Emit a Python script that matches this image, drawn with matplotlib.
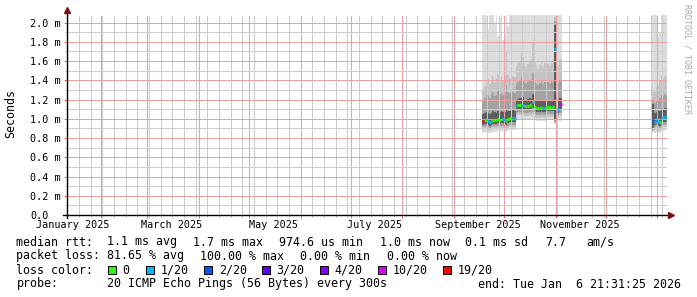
import matplotlib
matplotlib.use("Agg")
import matplotlib.dates as mdates
import matplotlib.pyplot as plt
import matplotlib.transforms as mtransforms
import pandas as pd
from matplotlib.patches import Rectangle
from matplotlib.ticker import FixedLocator, FuncFormatter, NullFormatter

W, H, DPI = 697, 297, 100
MONO = "DejaVu Sans Mono"
plt.rcParams["font.family"] = [MONO]

# smokeping "last 360 days" window
START = pd.Timestamp("2025-01-11 21:31:25")
END = pd.Timestamp("2026-01-06 21:31:25")

# loss count (of 20 pings) -> colour, as in the legend
LOSS_COLORS = {0: "#26ff00", 1: "#00b8ff", 2: "#0059ff", 3: "#5e00ff",
               4: "#7e00ff", 10: "#dd00ff", 19: "#ff0000"}
LOSS_LABELS = ["0", "1/20", "2/20", "3/20", "4/20", "10/20", "19/20"]
LOSS_KEYS = [0, 1, 2, 3, 4, 10, 19]

# smoke: outer band first (min..max), inner last
BAND_COLORS = ["#dddddd", "#c4c4c4", "#a2a2a2", "#5e5e5e"]

# ---- segment A: daily rows 2025-09-18 .. 2025-11-04 (ms) ----
days_a = pd.date_range("2025-09-18", "2025-11-04", freq="D")
end_a = pd.Timestamp("2025-11-04 17:00")
median_a = [0.98, 0.99, 0.99, 0.98, 0.97, 0.98, 0.99, 0.99, 0.99, 1.00, 0.99, 1.00, 1.00, 0.99, 0.98, 1.00, 1.01, 1.00, 1.01, 1.01,
            1.13, 1.14, 1.14, 1.13, 1.14, 1.13, 1.13, 1.13, 1.14, 1.13, 1.17, 1.12, 1.11, 1.11, 1.11, 1.12, 1.11, 1.11, 1.12, 1.12,
            1.12, 1.12, 1.12, 1.73, 1.07, 1.10, 1.15, 1.15]
loss_a = [19, 0, 0, 1, 1, 0, 0, 0, 0, 0, 0, 0, 1, 1, 0, 0, 0, 0, 1, 1,
          1, 0, 0, 1, 1, 0, 0, 0, 0, 0, 1, 0, 0, 0, 0, 0, 1, 1, 0, 0,
          0, 1, 0, 1, 1, 1, 10, 10]
top_a = [2.10, 2.10, 2.10, 1.93, 2.10, 2.10, 2.10, 1.99, 2.10, 1.86, 2.05, 2.10, 1.82, 1.84, 2.10, 1.96, 2.10, 2.10, 2.10, 2.10,
         2.10, 2.10, 2.10, 2.10, 2.10, 2.10, 2.10, 2.10, 2.10, 2.10, 2.10, 2.10, 2.10, 2.10, 2.10, 2.10, 2.10, 2.10, 2.10, 2.10,
         2.10, 2.10, 2.10, 2.10, 2.10, 2.10, 2.10, 2.10]
h2_a = [1.30, 1.34, 1.38, 1.42, 1.36, 1.40, 1.45, 1.38, 1.41, 1.47, 1.40, 1.43, 1.39, 1.44, 1.70, 1.46, 1.42, 1.40, 1.45, 1.43,
        1.55, 1.58, 1.60, 1.68, 1.64, 1.55, 1.52, 1.57, 1.60, 1.62, 1.79, 1.58, 1.55, 1.52, 1.56, 1.60, 1.54, 1.58, 1.62, 1.57,
        1.55, 1.60, 1.58, 2.06, 1.60, 1.56, 1.62, 1.60]
h3_a = [1.20, 1.22, 1.25, 1.24, 1.22, 1.26, 1.28, 1.24, 1.25, 1.29, 1.26, 1.27, 1.25, 1.27, 1.35, 1.28, 1.27, 1.26, 1.28, 1.27,
        1.36, 1.38, 1.40, 1.42, 1.40, 1.37, 1.36, 1.38, 1.40, 1.41, 1.48, 1.38, 1.36, 1.35, 1.37, 1.39, 1.36, 1.38, 1.40, 1.38,
        1.37, 1.39, 1.38, 2.02, 1.40, 1.37, 1.40, 1.40]
h4_a = [1.05, 1.06, 1.07, 1.06, 1.05, 1.06, 1.08, 1.07, 1.06, 1.08, 1.07, 1.08, 1.07, 1.07, 1.10, 1.08, 1.08, 1.07, 1.09, 1.08,
        1.20, 1.21, 1.22, 1.22, 1.23, 1.20, 1.20, 1.21, 1.22, 1.21, 1.26, 1.19, 1.18, 1.18, 1.19, 1.20, 1.18, 1.19, 1.20, 1.19,
        1.19, 1.20, 1.19, 1.97, 1.18, 1.19, 1.22, 1.22]
l4_a = [0.94, 0.95, 0.95, 0.94, 0.93, 0.94, 0.95, 0.95, 0.95, 0.96, 0.95, 0.96, 0.96, 0.95, 0.94, 0.96, 0.97, 0.96, 0.97, 0.97,
        1.09, 1.10, 1.10, 1.09, 1.10, 1.09, 1.09, 1.09, 1.10, 1.09, 1.11, 1.08, 1.07, 1.07, 1.07, 1.08, 1.07, 1.07, 1.08, 1.08,
        1.08, 1.08, 1.08, 0.99, 1.03, 1.06, 1.10, 1.10]
l3_a = [0.91, 0.92, 0.92, 0.91, 0.90, 0.91, 0.92, 0.92, 0.92, 0.93, 0.92, 0.93, 0.93, 0.92, 0.91, 0.93, 0.94, 0.93, 0.94, 0.94,
        1.06, 1.07, 1.07, 1.06, 1.07, 1.06, 1.06, 1.06, 1.07, 1.06, 1.07, 1.05, 1.04, 1.04, 1.04, 1.05, 1.04, 1.04, 1.05, 1.05,
        1.05, 1.05, 1.05, 0.97, 1.01, 1.03, 1.06, 1.06]
l2_a = [0.88, 0.89, 0.89, 0.88, 0.88, 0.88, 0.89, 0.89, 0.89, 0.90, 0.89, 0.90, 0.90, 0.89, 0.88, 0.90, 0.91, 0.90, 0.91, 0.91,
        1.03, 1.04, 1.04, 1.03, 1.04, 1.03, 1.03, 1.03, 1.04, 1.03, 1.04, 1.02, 1.01, 1.01, 1.01, 1.02, 1.01, 1.01, 1.02, 1.02,
        1.02, 1.02, 1.02, 0.96, 0.99, 1.01, 1.03, 1.03]
l1_a = [0.85, 0.86, 0.86, 0.85, 0.85, 0.85, 0.86, 0.86, 0.86, 0.87, 0.86, 0.87, 0.87, 0.86, 0.86, 0.87, 0.88, 0.87, 0.88, 0.88,
        0.99, 1.00, 1.00, 0.99, 1.00, 0.99, 0.99, 0.99, 1.00, 0.99, 1.00, 0.99, 0.98, 0.98, 0.98, 0.99, 0.98, 0.98, 0.99, 0.99,
        0.99, 0.99, 0.99, 0.95, 0.97, 0.98, 0.98, 0.98]

# ---- segment B: daily rows 2025-12-29 .. 2026-01-06 (ms) ----
days_b = pd.date_range("2025-12-29", "2026-01-06", freq="D")
end_b = END
median_b = [0.99, 0.97, 1.00, 0.98, 0.97, 1.01, 1.02, 1.02, 1.03]
loss_b = [2, 1, 1, 1, 0, 1, 1, 1, 1]
top_b = [2.10, 2.10, 2.10, 1.86, 1.90, 2.10, 2.10, 2.10, 2.10]
h2_b = [1.30, 1.28, 1.33, 1.35, 1.40, 1.44, 1.42, 1.45, 1.43]
h3_b = [1.20, 1.16, 1.18, 1.20, 1.22, 1.25, 1.24, 1.26, 1.25]
h4_b = [1.15, 1.06, 1.07, 1.08, 1.08, 1.10, 1.10, 1.11, 1.11]
l4_b = [0.90, 0.94, 0.95, 0.94, 0.93, 0.96, 0.97, 0.97, 0.98]
l3_b = [0.88, 0.91, 0.92, 0.91, 0.90, 0.93, 0.94, 0.94, 0.95]
l2_b = [0.87, 0.88, 0.89, 0.88, 0.87, 0.90, 0.91, 0.91, 0.92]
l1_b = [0.85, 0.85, 0.86, 0.85, 0.85, 0.86, 0.87, 0.87, 0.88]

# y grid: labelled lines every 0.2 ms, minor ones in between
y_major = [0.0, 0.2, 0.4, 0.6, 0.8, 1.0, 1.2, 1.4, 1.6, 1.8, 2.0]
y_minor = [0.1, 0.3, 0.5, 0.7, 0.9, 1.1, 1.3, 1.5, 1.7, 1.9]

# month labels sit mid-month
month_label_dates = ["2025-01-15 12:00", "2025-03-15 12:00", "2025-05-15 12:00",
                     "2025-07-15 12:00", "2025-09-15 12:00", "2025-11-15 12:00"]
month_labels = ["January 2025", "March 2025", "May 2025", "July 2025",
                "September 2025", "November 2025"]

legend_rows = [
    [(16.5, "median rtt:"), (107.3, "1.1 ms avg"), (193.3, "1.7 ms max"), (279.0, "974.6 us min"),
     (379.5, "1.0 ms now"), (465.3, "0.1 ms sd"), (545.0, "7.7"), (586.3, "am/s")],
    [(16.5, "packet loss:"), (107.3, "81.65 % avg"), (200.5, "100.00 % max"), (300.5, "0.00 % min"),
     (386.5, "0.00 % now")],
    [(16.5, "loss color:")],
    [(16.5, "probe:"), (107.3, "20 ICMP Echo Pings (56 Bytes) every 300s")],
]
END_TEXT = "end: Tue Jan  6 21:31:25 2026"


def fx(x):
    return x / W


def fy(y):
    return 1 - y / H


def draw_segment(ax, days, end, lows, highs, median, loss):
    x = mdates.date2num(list(days) + [end])
    for lo, hi, color in zip(lows, highs, BAND_COLORS):
        ax.fill_between(x, lo + [lo[-1]], hi + [hi[-1]], step="post", color=color,
                        linewidth=0, antialiased=False, zorder=1)
    ax.hlines(median, x[:-1], x[1:], colors=[LOSS_COLORS[v] for v in loss],
              linewidth=2.2, capstyle="butt", zorder=3)


fig = plt.figure(figsize=(W / DPI, H / DPI), dpi=DPI, facecolor="white")
ax = fig.add_axes([fx(67), (H - 215) / H, 600 / W, 200 / H])
ax.set_xlim(mdates.date2num(START), mdates.date2num(END))
ax.set_ylim(0, 200 / 96.2)

draw_segment(ax, days_a, end_a, [l1_a, l2_a, l3_a, l4_a], [top_a, h2_a, h3_a, h4_a], median_a, loss_a)
draw_segment(ax, days_b, end_b, [l1_b, l2_b, l3_b, l4_b], [top_b, h2_b, h3_b, h4_b], median_b, loss_b)

# grid: 1px on / 1px off dots, no antialiasing so they stay crisp
dots = (0, (1, 1))
ax.xaxis.set_major_locator(mdates.MonthLocator())
ax.xaxis.set_minor_locator(mdates.WeekdayLocator(byweekday=mdates.SU))
ax.xaxis.set_major_formatter(NullFormatter())
ax.yaxis.set_major_locator(FixedLocator(y_major))
ax.yaxis.set_minor_locator(FixedLocator(y_minor))
ax.yaxis.set_major_formatter(FuncFormatter(lambda v, p: "0.0" if abs(v) < 1e-9 else f"{v:.1f} m"))
ax.grid(which="minor", color="#cccccc", linestyle=dots, linewidth=0.72, antialiased=False)
ax.grid(which="major", color="#e9a0a0", linestyle=dots, linewidth=0.72, antialiased=False)
for s in ax.spines.values():
    s.set_visible(False)

ax.tick_params(which="major", length=2.2, width=0.72, color="#e07070")
ax.tick_params(which="minor", length=1.4, width=0.72, color="#b8b8b8")
ax.tick_params(axis="y", which="major", labelsize=7.3, pad=24.4, labelcolor="black")
for lab in ax.get_yticklabels():
    lab.set_horizontalalignment("left")

trans = mtransforms.blended_transform_factory(ax.transData, ax.transAxes)
for d, lab in zip(month_label_dates, month_labels):
    ax.text(mdates.date2num(pd.Timestamp(d)), -0.05, lab, transform=trans,
            ha="center", va="center", fontsize=7.3, family=MONO)

# axes with arrows
ax.plot([-0.006, 1.004], [0, 0], transform=ax.transAxes, color="black", lw=1.0, clip_on=False, zorder=5)
ax.plot([0, 0], [-0.015, 1.015], transform=ax.transAxes, color="black", lw=1.0, clip_on=False, zorder=5)
ax.plot([1.0067], [0], transform=ax.transAxes, marker=">", ms=4, color="#801010", clip_on=False, zorder=6)
ax.plot([0], [1.0225], transform=ax.transAxes, marker="^", ms=4, color="#801010", clip_on=False, zorder=6)

fig.text(fx(10.8), fy(113.7), "Seconds", rotation=90, ha="center", va="center", fontsize=8.4)
fig.text(fx(686.7), fy(4.5), "RRDTOOL / TOBI OETIKER", rotation=270, ha="center", va="top",
         fontsize=6.0, color="#a8a8a8")

# legend
baselines = [245.5, 259.5, 273.5, 287.5]
for row, base in zip(legend_rows, baselines):
    for x, s in row:
        fig.text(fx(x), fy(base), s, ha="left", va="baseline", fontsize=8.4)
fig.text(fx(680.5), fy(287.5), END_TEXT, ha="right", va="baseline", fontsize=8.4)

box_x = [108, 146, 204, 262, 320, 378, 443]
for bx, key, lab in zip(box_x, LOSS_KEYS, LOSS_LABELS):
    fig.add_artist(Rectangle((fx(bx), fy(273.5)), 8 / W, 8 / H, transform=fig.transFigure,
                             facecolor=LOSS_COLORS[key], edgecolor="black", linewidth=0.72))
    fig.text(fx(bx + 14.7), fy(273.5), lab, ha="left", va="baseline", fontsize=8.4)

fig.savefig("out.png", dpi=DPI, facecolor="white")
